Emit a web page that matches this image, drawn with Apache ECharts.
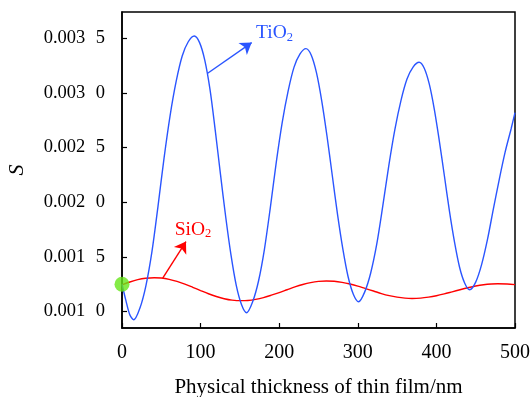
<!DOCTYPE html>
<html>
<head>
<meta charset="utf-8">
<script src="https://cdn.jsdelivr.net/npm/echarts@6/dist/echarts.min.js"></script>
<style>html,body{margin:0;padding:0;background:#fff}#c{width:532px;height:397px}</style>
</head>
<body>
<div id="c"></div>
<script>
// Thickness (nm) and S values for TiO2
var tio2X = [0,5,10,15,22.7,30.4,38.1,45.8,53.5,61.2,68.9,76.6,84.3,92,98.7,105.3,112,118.6,125.3,132,138.6,145.3,152,158.6,166.1,173.7,181.2,188.8,196.3,203.8,211.4,218.9,226.5,234,240.7,247.4,254.1,260.8,267.5,274.2,280.9,287.6,294.3,301,308.7,316.4,324.1,331.8,339.5,347.2,354.9,362.6,370.3,378,384.4,390.9,397.3,403.7,410.2,416.6,423,429.4,435.9,442.3,450,457.5,465,472.5,480,487.5,495,500];
var tio2Y = [0.00125,0.00110,0.00097,0.000925,0.00103,0.001236,0.001548,0.001963,0.002404,0.002793,0.003105,0.003338,0.003468,0.00352,0.00346,0.00330,0.00303,0.00266,0.002255,0.001863,0.001521,0.001243,0.001066,0.00099,0.001087,0.00128,0.00157,0.001956,0.002367,0.002729,0.003019,0.003236,0.003357,0.003405,0.003347,0.003185,0.002928,0.002606,0.002247,0.001889,0.001576,0.001321,0.001159,0.00109,0.001178,0.001353,0.001616,0.001966,0.002338,0.002667,0.00293,0.003127,0.003236,0.00328,0.003228,0.003082,0.002852,0.002562,0.00224,0.001918,0.001637,0.001408,0.001262,0.0012,0.00127,0.00143,0.00166,0.00194,0.00221,0.00246,0.00267,0.00282];
// Thickness (nm) and S values for SiO2
var sio2X = [0,10,20,30,41,50,60,70,80,90,100,110,120,130,140,152,160,170,180,190,200,210,220,230,240,250,260,270,280,290,300,310,320,330,340,350,360,369,380,390,400,410,420,430,440,450,460,470,478,490,500];
var sio2Y = [0.001245,0.001271,0.001292,0.001305,0.00131,0.001307,0.001295,0.001276,0.001251,0.001222,0.001192,0.001163,0.001138,0.001118,0.001105,0.0011,0.001102,0.001112,0.001128,0.00115,0.001174,0.0012,0.001226,0.001248,0.001265,0.001276,0.00128,0.001277,0.001267,0.001252,0.001233,0.00121,0.001188,0.001165,0.001146,0.001132,0.001123,0.00112,0.001123,0.001132,0.001145,0.001162,0.001181,0.0012,0.001218,0.001234,0.001246,0.001253,0.001255,0.001252,0.001247];
var startPoint = [0, 0.00125];
var yTicks = [0.0010, 0.0015, 0.0020, 0.0025, 0.0030, 0.0035];
var xName = 'Physical thickness of thin film/nm';
var yName = 'S';
// annotation anchors (data units)
var tio2Arrow = [[109, 0.00318], [165, 0.00346]];
var tio2Label = [170.5, 0.00355];
var sio2Arrow = [[51.8, 0.001305], [81.4, 0.00164]];
var sio2Label = [67, 0.00175];

function zip(a, b) { return a.map(function (v, i) { return [v, b[i]]; }); }
var FONT = 'Liberation Serif';
var chart = echarts.init(document.getElementById('c'), null, { renderer: 'canvas' });
function richText(color) {
  return {
    m: { fontFamily: FONT, fontSize: 19.5, color: color, lineHeight: 22 },
    s: { fontFamily: FONT, fontSize: 12.5, color: color, lineHeight: 22, verticalAlign: 'bottom', padding: [9, 0, 0, 0] }
  };
}
chart.setOption({
  animation: false,
  backgroundColor: '#fff',
  grid: { left: 122, right: 17, top: 12, bottom: 69, outerBoundsMode: 'none', containLabel: false,
          show: true, borderColor: '#000', borderWidth: 1.5, backgroundColor: 'transparent' },
  xAxis: {
    type: 'value', min: 0, max: 500, interval: 100,
    name: xName, nameLocation: 'middle', nameGap: 49,
    nameTextStyle: { fontFamily: FONT, fontSize: 21, color: '#000' },
    axisLine: { show: true, lineStyle: { color: '#000', width: 1.5 } },
    axisTick: { show: true, inside: true, length: 5, lineStyle: { color: '#000', width: 1.2 } },
    axisLabel: { fontFamily: FONT, fontSize: 20, color: '#000', margin: 15 },
    splitLine: { show: false }
  },
  yAxis: {
    type: 'value', min: 0.00085, max: 0.00374,
    name: yName, nameLocation: 'middle', nameGap: 94,
    nameTextStyle: { fontFamily: FONT, fontSize: 22, fontStyle: 'italic', color: '#000' },
    axisLine: { show: true, lineStyle: { color: '#000', width: 1.5 } },
    axisTick: { show: true, inside: true, length: 5, customValues: yTicks, lineStyle: { color: '#000', width: 1.2 } },
    axisLabel: {
      fontFamily: FONT, fontSize: 18.5, color: '#000', margin: 17, customValues: yTicks,
      formatter: function (v) { var s = v.toFixed(4); return '{a|' + s.slice(0, 5) + '}{b|' + s.slice(5) + '}'; },
      rich: {
        a: { fontFamily: FONT, fontSize: 18.5, color: '#000' },
        b: { fontFamily: FONT, fontSize: 18.5, color: '#000', padding: [0, 0, 0, 10.5] }
      }
    },
    splitLine: { show: false }
  },
  series: [
    {
      name: 'SiO2', type: 'line', data: zip(sio2X, sio2Y), smooth: 0.3, symbol: 'none',
      lineStyle: { color: '#ff0000', width: 1.4 },
      markLine: {
        silent: true, symbol: ['none', 'arrow'], symbolSize: 11,
        lineStyle: { color: '#ff0000', width: 1.4, type: 'solid' }, label: { show: false },
        data: [[{ coord: sio2Arrow[0] }, { coord: sio2Arrow[1] }]]
      },
      markPoint: {
        silent: true, symbol: 'circle', symbolSize: 0,
        label: { show: true, position: 'right', distance: 0, formatter: '{m|SiO}{s|2}', rich: richText('#ff0000') },
        data: [{ coord: sio2Label }]
      }
    },
    {
      name: 'TiO2', type: 'line', data: zip(tio2X, tio2Y), smooth: 0.3, symbol: 'none',
      lineStyle: { color: '#2a55ff', width: 1.4 },
      markLine: {
        silent: true, symbol: ['none', 'arrow'], symbolSize: 11,
        lineStyle: { color: '#2a55ff', width: 1.4, type: 'solid' }, label: { show: false },
        data: [[{ coord: tio2Arrow[0] }, { coord: tio2Arrow[1] }]]
      },
      markPoint: {
        silent: true, symbol: 'circle', symbolSize: 0,
        label: { show: true, position: 'right', distance: 0, formatter: '{m|TiO}{s|2}', rich: richText('#2a55ff') },
        data: [{ coord: tio2Label }]
      }
    },
    {
      name: 'start', type: 'scatter', data: [startPoint], symbolSize: 15, clip: false,
      itemStyle: { color: '#66e619' }, z: 5
    }
  ]
});
</script>
</body>
</html>
